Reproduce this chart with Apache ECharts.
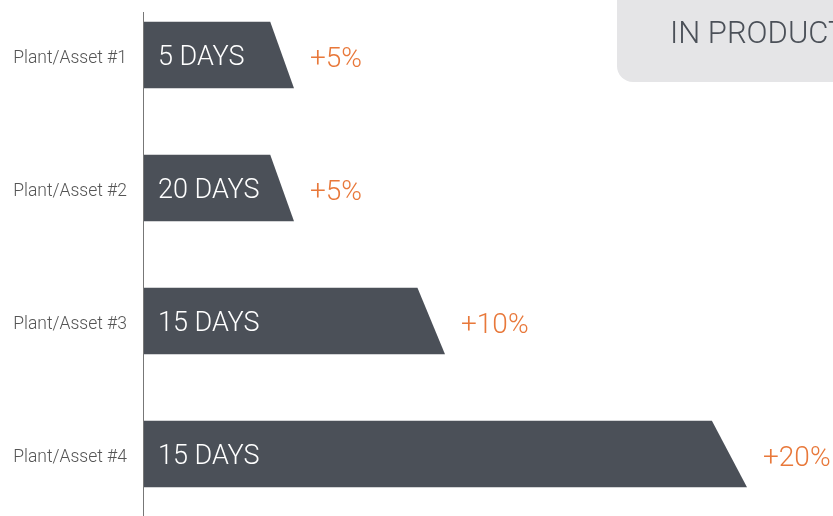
<!DOCTYPE html>
<html>
<head>
<meta charset="utf-8">
<script src="https://cdn.jsdelivr.net/npm/echarts@6/dist/echarts.min.js"></script>
<style>
  html, body { margin: 0; padding: 0; background: #fff; }
  #chart { width: 833px; height: 516px; }
</style>
</head>
<body>
<div id="chart"></div>
<script>
// values
const categories = ["Plant/Asset #1", "Plant/Asset #2", "Plant/Asset #3", "Plant/Asset #4"]
const growth = [5, 5, 10, 20]          // bar length, shown as +x%
const dayLabels = ["5 DAYS", "20 DAYS", "15 DAYS", "15 DAYS"]

const barColor = "#4b5058"
const orange = "#e8783a"
const font = "Roboto"

let myChart = echarts.init(document.getElementById("chart"))

myChart.setOption({
  animation: false,
  grid: {
    left: 143,
    top: -11.5,
    width: 755,
    height: 532,
    outerBoundsMode: "none",
    containLabel: false
  },
  xAxis: {
    type: "value",
    min: 0,
    max: 25,
    show: false
  },
  yAxis: {
    type: "category",
    data: categories,
    inverse: true,
    axisLine: { show: false },
    axisTick: { show: false },
    axisLabel: {
      margin: 16,
      formatter: v => "{a|" + v + "}",
      rich: {
        a: {
          color: "#555",
          fontSize: 17.5,
          fontFamily: font,
          fontWeight: 300,
          padding: [8, 0, 0, 0]
        }
      }
    }
  },
  graphic: [
    {
      type: "line",
      shape: { x1: 143.5, y1: 12, x2: 143.5, y2: 516 },
      style: { stroke: "#777", lineWidth: 1 },
      z: 10
    },
    {
      type: "rect",
      shape: { x: 617, y: -30, width: 260, height: 112, r: 16 },
      style: { fill: "#e5e5e7" }
    },
    {
      type: "text",
      left: 670,
      top: 20,
      style: {
        text: "IN PRODUCTION",
        fill: "#4b5058",
        font: "300 31px " + font
      }
    }
  ],
  series: [
    {
      type: "custom",
      data: growth.map((v, i) => [v, i]),
      encode: { x: 0, y: 1 },
      renderItem: function (params, api) {
        let i = api.value(1)
        let start = api.coord([0, i])
        let end = api.coord([api.value(0), i])
        let h = api.size([0, 1])[1] * 0.5
        let len = end[0] - start[0]
        let slant = 20 + len * 0.025
        let y = start[1]
        return {
          type: "group",
          children: [
            {
              type: "polygon",
              shape: {
                points: [
                  [start[0], y - h / 2],
                  [end[0] - slant, y - h / 2],
                  [end[0], y + h / 2],
                  [start[0], y + h / 2]
                ]
              },
              style: { fill: barColor }
            },
            {
              type: "text",
              x: start[0] + 15,
              y: y + 3.5,
              style: {
                text: dayLabels[params.dataIndex],
                fill: "#fff",
                font: "300 27px " + font,
                verticalAlign: "middle",
                align: "left"
              }
            },
            {
              type: "text",
              x: end[0] + 16,
              y: y + 5,
              style: {
                text: "+" + growth[params.dataIndex] + "%",
                fill: orange,
                font: "300 28px " + font,
                verticalAlign: "middle",
                align: "left"
              }
            }
          ]
        }
      }
    }
  ]
})
</script>
</body>
</html>
